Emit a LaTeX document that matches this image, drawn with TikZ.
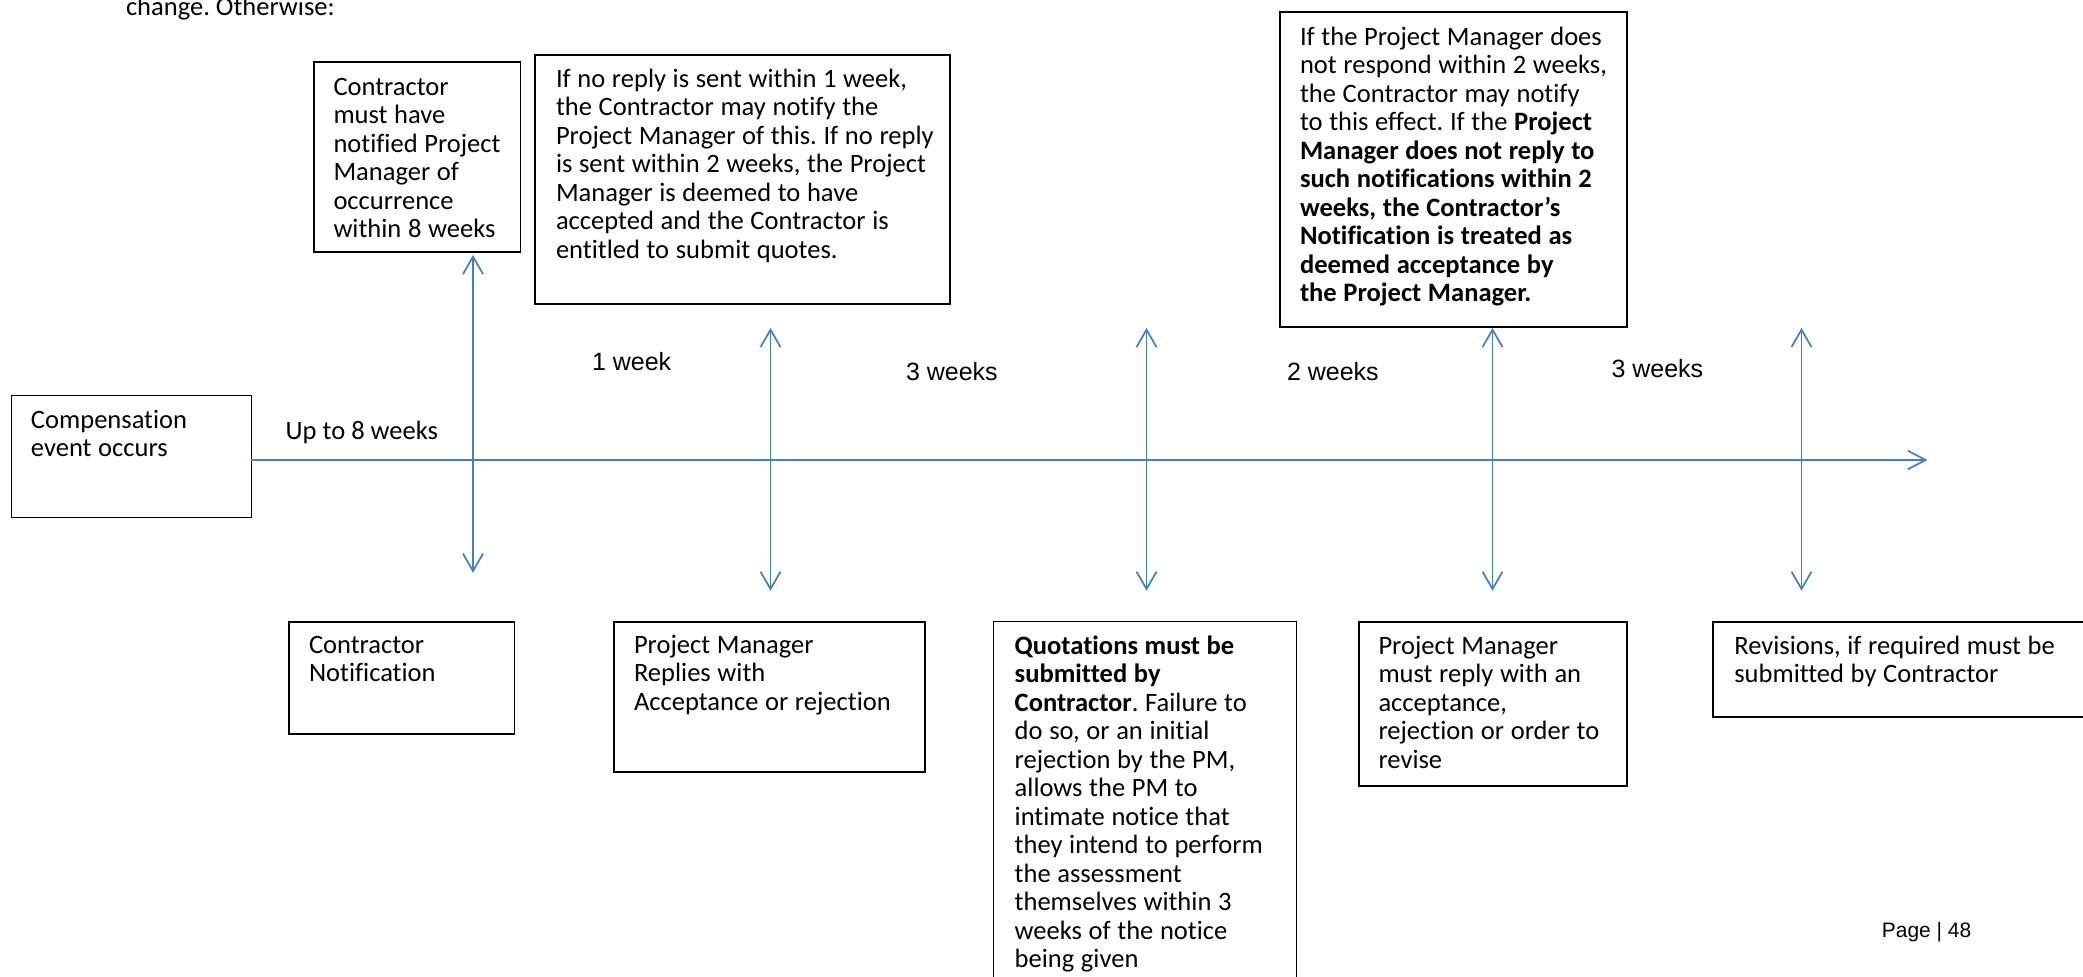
\documentclass[tikz,border=0pt]{standalone}
\usepackage{fontspec}
\setmainfont{Carlito}[Ligatures=NoCommon]
\newfontfamily\arialfont{Liberation Sans}
\usetikzlibrary{arrows.meta}
\definecolor{lineblue}{RGB}{74,126,187}
\newcommand\fl{\spaceskip=0.25em\relax\xspaceskip=0.25em\relax\rule{0pt}{16pt}}
\frenchspacing
\begin{document}
\begin{tikzpicture}[x=0.75pt,y=-0.75pt,
  boxthin/.style 2 args={draw=black,line width=1.05pt,rectangle,anchor=north west,
    inner sep=0pt,outer sep=0pt,minimum width=#1*0.75pt,minimum height=#2*0.75pt},
  boxthick/.style 2 args={boxthin={#1}{#2},line width=1.5pt},
  txt/.style={anchor=north west,inner sep=0pt,outer sep=0pt,align=left,
    text width=420*0.75pt,font=\frenchspacing\fontsize{19.9pt}{21.4pt}\selectfont},
  oneline/.style={anchor=base west,inner sep=0pt,outer sep=0pt,font=\frenchspacing\fontsize{19.9pt}{21.4pt}\selectfont},
  wk/.style={anchor=base west,inner sep=0pt,outer sep=0pt,font=\arialfont\fontsize{18.75pt}{22pt}\selectfont},
  varr/.style={draw=lineblue,line width=1.3pt,
    {Straight Barb[length=13pt,width=15pt]}-{Straight Barb[length=13pt,width=15pt]}},
  tline/.style={draw=lineblue,line width=1.3pt,-{Straight Barb[length=13.5pt,width=14pt]}}
]
\useasboundingbox (0,0) rectangle (2083,977);
\clip (0,0) rectangle (2083,977);

% top fragment
\node[oneline] (prev) at (126,15.7) {change. Otherwise:};

% boxes
\node[boxthin={206.5}{190}] (b1) at (314,62) {};
\node[boxthick={415}{249}] (b2) at (535,55) {};
\node[boxthick={347}{315}] (b3) at (1280,12) {};
\node[boxthin={239.7}{122}] (comp) at (11.6,395.3) {};
\node[boxthin={225.5}{112}] (notif) at (288.8,622) {};
\node[boxthick={311.2}{150.3}] (pmrep) at (613.8,622) {};
\node[boxthin={302.7}{420}] (quot) at (993.7,621.7) {};
\node[boxthick={268}{164}] (pmmust) at (1358.5,621.7) {};
\node[boxthick={420}{94.7}] (revis) at (1713.3,622) {};

% box texts
\node[txt] (t1) at (333.5,73.67) {\fl Contractor\\must have\\notified Project\\Manager of\\occurrence\\within 8 weeks};
\node[txt] (t2) at (556,65.67) {\fl If no reply is sent within 1 week,\\the Contractor may notify the\\Project Manager of this. If no reply\\is sent within 2 weeks, the Project\\Manager is deemed to have\\accepted and the Contractor is\\entitled to submit quotes.};
\node[txt] (t3) at (1300,23.67) {\fl If the Project Manager does\\not respond within 2 weeks,\\the Contractor may notify\\to this effect. If the \textbf{Project}\\\textbf{Manager does not reply to}\\\textbf{such notifications within 2}\\\textbf{weeks, the Contractor’s}\\\textbf{Notification is treated as}\\\textbf{deemed acceptance by}\\\textbf{the Project Manager.}};
\node[txt] (tcomp) at (31,406.97) {\fl Compensation\\event occurs};
\node[txt] (tnotif) at (309,631.97) {\fl Contractor\\Notification};
\node[txt] (tpmrep) at (634,631.67) {\fl Project Manager\\Replies with\\Acceptance or rejection};
\node[txt] (tquot) at (1014.7,632.67) {\fl \textbf{Quotations must be}\\\textbf{submitted by}\\\textbf{Contractor}. Failure to\\do so, or an initial\\rejection by the PM,\\allows the PM to\\intimate notice that\\they intend to perform\\the assessment\\themselves within 3\\weeks of the notice\\being given};
\node[txt] (tpmmust) at (1378.5,632.67) {\fl Project Manager\\must reply with an\\acceptance,\\rejection or order to\\revise};
\node[txt] (trevis) at (1734.3,632.67) {\fl Revisions, if required must be\\submitted by Contractor};

% duration labels
\node[oneline] (l0) at (285.7,439.3) {Up to 8 weeks};
\node[wk] (l1) at (592,370) {1 week};
\node[wk] (l2) at (906,380.7) {3 weeks};
\node[wk] (l3) at (1287,380.7) {2 weeks};
\node[wk] (l4) at (1611.5,377.3) {3 weeks};
\node[anchor=base west,inner sep=0pt,font=\arialfont\fontsize{15.7pt}{18pt}\selectfont] (page) at (1881.7,937.7) {Page | 48};

% connector end points
\coordinate (tlend) at (1927.6,460);
\coordinate (a1t) at (473,255);    \coordinate (a1b) at (473,572.7);
\coordinate (a2t) at (770.5,328);  \coordinate (a2b) at (770.5,590.7);
\coordinate (a3t) at (1146.5,328); \coordinate (a3b) at (1146.5,590.7);
\coordinate (a4t) at (1492.5,328); \coordinate (a4b) at (1492.5,590.7);
\coordinate (a5t) at (1801.5,328); \coordinate (a5b) at (1801.5,590.7);

% timeline and markers
\draw[tline] (comp.east |- tlend) -- (tlend);
\draw[varr] (a1t) -- (a1b);
\draw[varr] (a2t) -- (a2b);
\draw[varr] (a3t) -- (a3b);
\draw[varr] (a4t) -- (a4b);
\draw[varr] (a5t) -- (a5b);
\end{tikzpicture}
\end{document}
